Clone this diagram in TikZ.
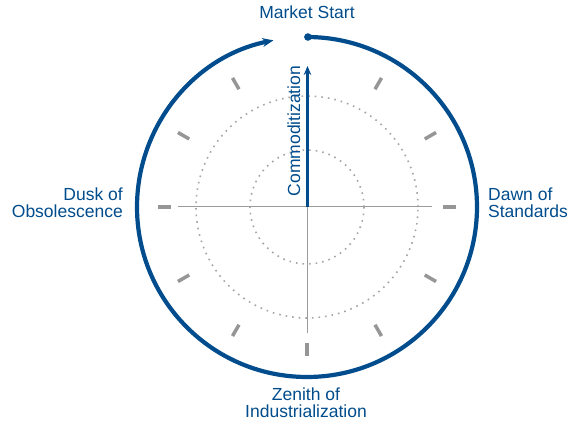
\documentclass[tikz,border=0pt]{standalone}
\usepackage{fontspec}
\setmainfont{Liberation Sans}
\usetikzlibrary{arrows.meta}
\definecolor{cblue}{RGB}{0,76,140}
\definecolor{tickgray}{RGB}{150,150,150}
\definecolor{axisgray}{RGB}{155,155,155}
\definecolor{dotgray}{RGB}{165,165,165}
\tikzset{
  lbl/.style={text=cblue, font=\fontsize{17.5}{16.5}\selectfont, inner sep=0pt},
  ringline/.style={draw=cblue, line width=4.2pt},
  tickmark/.style={draw=tickgray, line width=3.5pt},
  axisline/.style={draw=axisgray, line width=1pt},
  dotring/.style={draw=dotgray, line width=1.6pt, dash pattern=on 1.6pt off 5pt}
}
\begin{document}
\begin{tikzpicture}[x=1pt,y=1pt]
\useasboundingbox (-307,-215) rectangle (265,207);
\coordinate (c) at (0,0);
% dotted circles
\draw[dotring] (c) circle (57);
\draw[dotring] (c) circle (111);
% axes
\coordinate (hl) at (-129,0);
\coordinate (hr) at (125,0);
\coordinate (vb) at (0,-126);
\draw[axisline] (hl) -- (hr);
\draw[axisline] (c) -- (vb);
% ticks
\foreach \a in {0,30,60,120,150,180,210,240,270,300,330}{
  \draw[tickmark] (\a:136) -- (\a:149);
}
% outer ring
\coordinate (rs) at (89.7:170);
\draw[ringline, -{Stealth[length=11pt,width=9pt]}] (rs) arc[start angle=89.7, end angle=-258.6, radius=170];
\fill[cblue] (rs) circle (3.8);
% vertical arrow
\coordinate (vt) at (0.5,141);
\draw[draw=cblue, line width=3.5pt, -{Stealth[length=9pt,width=7.5pt]}] (0.5,0) -- (vt);
\node[lbl, rotate=90, anchor=base] (comm) at (-7,76) {Commoditization};
% labels
\node[lbl, anchor=base] (ms) at (0,188) {Market Start};
\node[lbl, anchor=base west, align=left] (dawn) at (181,-10.3) {Dawn of\\Standards};
\node[lbl, anchor=base east, align=right] (dusk) at (-184,-10.3) {Dusk of\\Obsolescence};
\node[lbl, anchor=base, align=center] (zen) at (-1,-210) {Zenith of\\Industrialization};
\end{tikzpicture}
\end{document}
